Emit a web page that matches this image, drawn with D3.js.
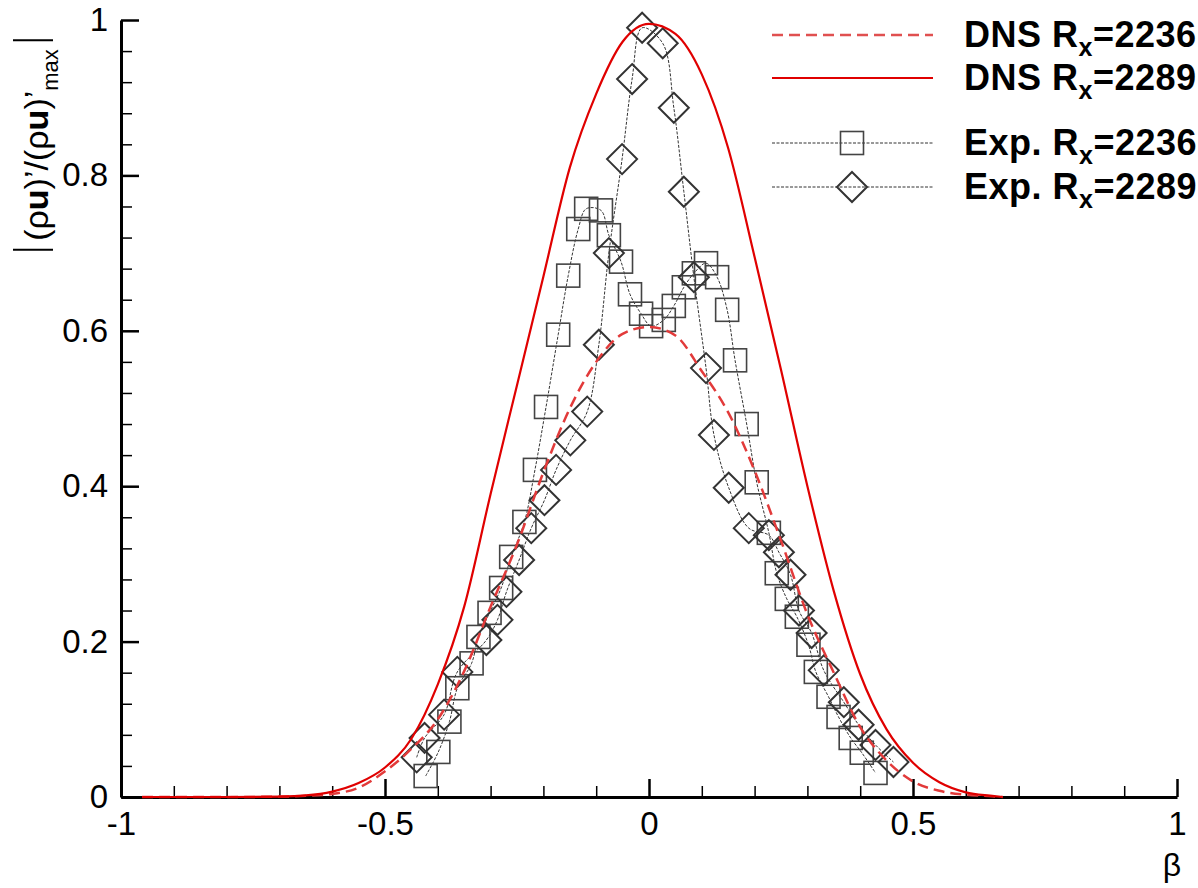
<!DOCTYPE html>
<html>
<head>
<meta charset="utf-8">
<script src="https://cdn.jsdelivr.net/npm/d3@7"></script>
<style>
  body { margin: 0; background: #fff; }
  svg { display: block; font-family: "Liberation Sans", Arial, Helvetica, sans-serif; }
</style>
</head>
<body>
<svg id="chart" width="1198" height="888"></svg>
<script>
// Spanwise coordinate grid for the DNS profiles
const dnsBeta = [-0.96, -0.9, -0.8, -0.7, -0.65, -0.6, -0.55, -0.5, -0.45, -0.4, -0.35, -0.3, -0.25, -0.2,
  -0.15, -0.1, -0.05, 0, 0.05, 0.1, 0.15, 0.2, 0.25, 0.3, 0.35, 0.4, 0.45, 0.5, 0.55, 0.6, 0.65, 0.67];
// DNS amplitude at Rx = 2236 (dashed)
const dns2236 = [0, 0, 0, 0.0005, 0.0015, 0.004, 0.012, 0.033, 0.062, 0.1, 0.162, 0.245, 0.325, 0.418,
  0.5, 0.56, 0.596, 0.605, 0.594, 0.548, 0.495, 0.42, 0.33, 0.235, 0.16, 0.09, 0.047, 0.02, 0.008, 0.003, 0.001, 0];
// DNS amplitude at Rx = 2289 (solid)
const dns2289 = [0, 0, 0, 0.0005, 0.002, 0.007, 0.018, 0.038, 0.075, 0.145, 0.245, 0.39, 0.53, 0.67,
  0.81, 0.905, 0.972, 0.995, 0.982, 0.93, 0.835, 0.695, 0.55, 0.40, 0.265, 0.158, 0.087, 0.044, 0.019, 0.006, 0.0015, 0];

// Experiment, Rx = 2236 (squares)
const exp2236Beta = [-0.423, -0.399, -0.378, -0.363, -0.336, -0.323, -0.302, -0.280, -0.261, -0.236,
  -0.216, -0.195, -0.172, -0.153, -0.134, -0.119, -0.091, -0.076, -0.053, -0.036, -0.015, 0.004,
  0.028, 0.047, 0.066, 0.085, 0.108, 0.129, 0.148, 0.163, 0.185, 0.204, 0.227, 0.242, 0.261, 0.280,
  0.302, 0.316, 0.340, 0.359, 0.382, 0.403, 0.429];
const exp2236 = [0.027, 0.058, 0.097, 0.140, 0.172, 0.206, 0.237, 0.269, 0.309, 0.354,
  0.421, 0.502, 0.595, 0.671, 0.731, 0.757, 0.755, 0.723, 0.689, 0.647, 0.622, 0.606,
  0.614, 0.632, 0.656, 0.674, 0.687, 0.669, 0.627, 0.562, 0.480, 0.405, 0.340, 0.288, 0.255, 0.232,
  0.196, 0.161, 0.129, 0.103, 0.076, 0.057, 0.031];

// Experiment, Rx = 2289 (diamonds)
const exp2289Beta = [-0.440, -0.425, -0.388, -0.363, -0.308, -0.287, -0.270, -0.246, -0.223, -0.198,
  -0.176, -0.149, -0.117, -0.095, -0.076, -0.051, -0.032, -0.013, 0.026, 0.047, 0.066, 0.085,
  0.108, 0.123, 0.151, 0.189, 0.227, 0.246, 0.268, 0.284, 0.308, 0.331, 0.369, 0.397, 0.429, 0.463];
const exp2289 = [0.051, 0.076, 0.106, 0.161, 0.202, 0.228, 0.264, 0.305, 0.346, 0.382,
  0.421, 0.459, 0.496, 0.582, 0.700, 0.821, 0.924, 0.990, 0.970, 0.887, 0.779, 0.669,
  0.552, 0.466, 0.398, 0.346, 0.337, 0.315, 0.286, 0.240, 0.211, 0.163, 0.122, 0.093, 0.067, 0.045];

const xTicks = [-1, -0.5, 0, 0.5, 1];
const xTickLabels = ["-1", "-0.5", "0", "0.5", "1"];
const yTicks = [0, 0.2, 0.4, 0.6, 0.8, 1];
const yTickLabels = ["0", "0.2", "0.4", "0.6", "0.8", "1"];

const legendLabels = ["DNS R", "DNS R", "Exp. R", "Exp. R"];
const legendValues = ["=2236", "=2289", "=2236", "=2289"];

const svg = d3.select("#chart");
const x = d3.scaleLinear().domain([-1, 1]).range([121, 1177]);
const y = d3.scaleLinear().domain([0, 1]).range([797, 20]);

// Axes: inward major ticks plus minor ticks
const minorX = d3.range(-10, 11).map(d => d / 10).filter(v => !xTicks.some(t => Math.abs(t - v) < 1e-9));
const minorY = d3.range(0, 26).map(d => d * 0.04).filter(v => !yTicks.some(t => Math.abs(t - v) < 1e-9));

const xMinor = svg.append("g").attr("transform", "translate(0,797)")
  .call(d3.axisBottom(x).tickValues(minorX).tickSizeInner(-11).tickSizeOuter(0).tickFormat(""));
const yMinor = svg.append("g").attr("transform", "translate(121,0)")
  .call(d3.axisLeft(y).tickValues(minorY).tickSizeInner(-11).tickSizeOuter(0).tickFormat(""));
[xMinor, yMinor].forEach(g => {
  g.select(".domain").remove();
  g.selectAll(".tick line").attr("stroke", "#000").attr("stroke-width", 1.5);
});

const xAxis = svg.append("g").attr("transform", "translate(0,797)")
  .call(d3.axisBottom(x).tickValues(xTicks).tickSizeInner(-18).tickSizeOuter(0).tickPadding(15)
    .tickFormat((d, i) => xTickLabels[i]));
const yAxis = svg.append("g").attr("transform", "translate(121,0)")
  .call(d3.axisLeft(y).tickValues(yTicks).tickSizeInner(-18).tickSizeOuter(0).tickPadding(13)
    .tickFormat((d, i) => yTickLabels[i]));
[xAxis, yAxis].forEach(g => {
  g.select(".domain").attr("stroke", "#000").attr("stroke-width", 3);
  g.selectAll(".tick line").attr("stroke", "#000").attr("stroke-width", 2.5);
  g.selectAll(".tick text").attr("fill", "#000").attr("font-size", 33)
    .attr("font-family", "'Liberation Sans', Arial, sans-serif");
});

// Experimental fit lines (thin dotted) and markers
const expLine = d3.line().curve(d3.curveCatmullRom.alpha(0.5));
const expSets = [
  { b: exp2236Beta, v: exp2236, shape: "square" },
  { b: exp2289Beta, v: exp2289, shape: "diamond" }
];
expSets.forEach(s => {
  const pts = s.b.map((b, i) => [x(b), y(s.v[i])]);
  svg.append("path").attr("d", expLine(pts))
    .attr("fill", "none").attr("stroke", "#333").attr("stroke-width", 1)
    .attr("stroke-dasharray", "3,1.5");
});

function drawMarker(g, shape, cx, cy) {
  if (shape === "square") {
    g.append("rect").attr("x", cx - 11.5).attr("y", cy - 11.5).attr("width", 23).attr("height", 23)
      .attr("fill", "none").attr("stroke", "#444").attr("stroke-width", 1.6);
  } else {
    const r = 15;
    g.append("path").attr("d", `M${cx},${cy - r}L${cx + r},${cy}L${cx},${cy + r}L${cx - r},${cy}Z`)
      .attr("fill", "none").attr("stroke", "#333").attr("stroke-width", 2);
  }
}
expSets.forEach(s => {
  const g = svg.append("g");
  s.b.forEach((b, i) => drawMarker(g, s.shape, x(b), y(s.v[i])));
});

// DNS profiles
const dnsLine = d3.line().curve(d3.curveMonotoneX);
svg.append("path").attr("d", dnsLine(dnsBeta.map((b, i) => [x(b), y(dns2236[i])])))
  .attr("fill", "none").attr("stroke", "#e23a3a").attr("stroke-width", 2.5)
  .attr("stroke-dasharray", "11,6");
svg.append("path").attr("d", dnsLine(dnsBeta.map((b, i) => [x(b), y(dns2289[i])])))
  .attr("fill", "none").attr("stroke", "#e00000").attr("stroke-width", 2.2);

// Legend
const legendRows = [
  { y: 35, stroke: "#e05050", dash: "11,6", width: 2.5, marker: null },
  { y: 78, stroke: "#e00000", dash: null, width: 2.2, marker: null },
  { y: 143, stroke: "#333", dash: "3,1.5", width: 1, marker: "square" },
  { y: 187, stroke: "#333", dash: "3,1.5", width: 1, marker: "diamond" }
];
const lg = svg.append("g");
legendRows.forEach((r, i) => {
  lg.append("line").attr("x1", 772).attr("x2", 933).attr("y1", r.y).attr("y2", r.y)
    .attr("stroke", r.stroke).attr("stroke-width", r.width)
    .attr("stroke-dasharray", r.dash);
  if (r.marker) drawMarker(lg, r.marker, 852, r.y);
  const t = lg.append("text").attr("x", 964).attr("y", r.y + 12)
    .attr("font-size", 36).attr("font-weight", "bold").attr("letter-spacing", 0.5).attr("fill", "#000");
  t.append("tspan").text(legendLabels[i]);
  t.append("tspan").attr("font-size", 25).attr("dy", 9).text("x");
  t.append("tspan").attr("dy", -9).text(legendValues[i]);
});

// Axis titles
svg.append("text").attr("x", 1172).attr("y", 876).attr("text-anchor", "middle")
  .attr("font-size", 32).attr("fill", "#000").text("β");

const yt = svg.append("g").attr("transform", "translate(48,145) rotate(-90)");
const ytext = yt.append("text").attr("text-anchor", "middle").attr("font-size", 34).attr("fill", "#000");
ytext.append("tspan").text("(ρ");
ytext.append("tspan").attr("font-weight", "bold").text("u");
ytext.append("tspan").text(")’/(ρ");
ytext.append("tspan").attr("font-weight", "bold").text("u");
ytext.append("tspan").text(")’");
ytext.append("tspan").attr("font-size", 22).attr("dy", 10).text("max");
const bb = ytext.node().getBBox();
[bb.x - 9, bb.x + bb.width + 9].forEach(px => {
  yt.append("line").attr("x1", px).attr("x2", px).attr("y1", -35).attr("y2", 5)
    .attr("stroke", "#000").attr("stroke-width", 2);
});
</script>
</body>
</html>
